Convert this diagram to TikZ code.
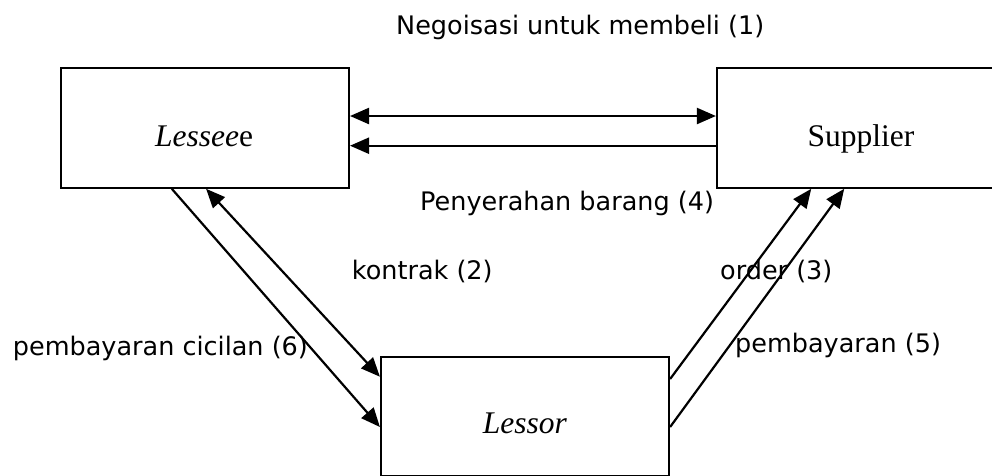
\documentclass[tikz,border=0pt]{standalone}
\usepackage{fontspec}
\setmainfont{Liberation Serif}
\newfontfamily\labelfont{DejaVu Sans}
\usetikzlibrary{arrows.meta}
\begin{document}
\begin{tikzpicture}[x=1pt,y=-1pt,
  box/.style={draw,line width=2.2pt,minimum width=288pt,minimum height=119.4pt,inner sep=0pt},
  boxtext/.style={anchor=base,font=\fontsize{31.5}{36}\selectfont,inner sep=0pt},
  lbl/.style={anchor=base west,font=\labelfont\fontsize{25.5}{30}\selectfont,inner sep=0pt},
  conn/.style={line width=2.2pt,-{Triangle[length=19pt,width=16pt]}},
  conn2/.style={line width=2.2pt,{Triangle[length=19pt,width=16pt]}-{Triangle[length=19pt,width=16pt]}}]
\useasboundingbox (0,0) rectangle (992,475);
\clip (0,0) rectangle (992,475);
\node[box] (lesseeBox) at (204.9,128) {};
\node[box] (supplierBox) at (861,128) {};
\node[box] (lessorBox) at (525,416.4) {};
\node[boxtext] (lesseeText) at (204,146.7) {\textit{Lessee}e};
\node[boxtext] (supplierText) at (861,146.7) {Supplier};
\node[boxtext] (lessorText) at (525,433) {\textit{Lessor}};
\draw[conn2] ([yshift=12pt]lesseeBox.east) -- ([yshift=12pt]supplierBox.west);
\draw[conn] ([yshift=-17.7pt]supplierBox.west) -- ([yshift=-17.7pt]lesseeBox.east);
\draw[conn] ([xshift=112pt]lesseeBox.south west) -- ([yshift=-10.6pt]lessorBox.west);
\draw[conn2] ([xshift=146.3pt]lesseeBox.south west) -- ([yshift=39.7pt]lessorBox.west);
\draw[conn] ([yshift=37.4pt]lessorBox.east) -- ([xshift=95.3pt]supplierBox.south west);
\draw[conn] ([yshift=-10.6pt]lessorBox.east) -- ([xshift=128.3pt]supplierBox.south west);
\node[lbl] (l1) at (396,34) {Negoisasi untuk membeli (1)};
\node[lbl] (l4) at (420,210.7) {Penyerahan barang (4)};
\node[lbl] (l2) at (351.7,279.3) {kontrak (2)};
\node[lbl] (l3) at (720,279.3) {order (3)};
\node[lbl] (l6) at (12.7,355) {pembayaran cicilan (6)};
\node[lbl] (l5) at (735,352) {pembayaran (5)};
\end{tikzpicture}
\end{document}
